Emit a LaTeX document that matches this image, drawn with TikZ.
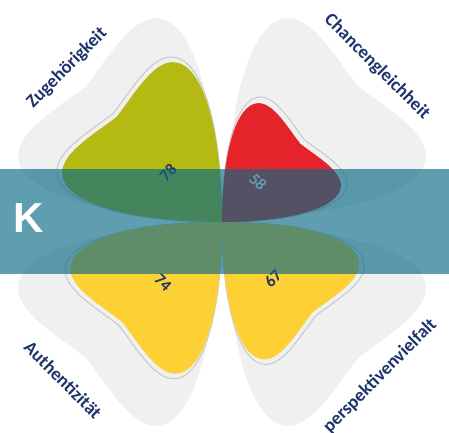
\documentclass[tikz,border=0pt]{standalone}
\usepackage{fontspec}
\setmainfont{Carlito}
\newfontfamily\kfont{Liberation Sans}
\definecolor{leafgrey}{RGB}{240,240,240}
\definecolor{olivec}{RGB}{181,186,19}
\definecolor{redc}{RGB}{228,35,42}
\definecolor{yellowc}{RGB}{253,208,52}
\definecolor{navyc}{RGB}{31,52,108}
\definecolor{bannerc}{RGB}{9,106,133}
\definecolor{edgec}{RGB}{200,200,200}
\newcommand\leafshape[1]{\path[#1] (0,0) .. controls (0,120) and (25,205) .. (63,205) .. controls (90,205) and (115,160) .. (135,135) .. controls (160,115) and (205,90) .. (205,63) .. controls (205,25) and (120,0) .. (0,0) -- cycle;}
\tikzset{
  outer/.style={font=\bfseries\fontsize{18.5}{21}\selectfont, text=navyc, inner sep=0pt},
  val/.style={font=\bfseries\fontsize{16.5}{18}\selectfont, text=navyc, inner sep=0pt},
  greyleaf/.style={fill=leafgrey},
  ring/.style={draw=edgec, line width=1pt},
}
\begin{document}
\begin{tikzpicture}[x=1pt,y=1pt]
\useasboundingbox (-222,-210) rectangle (227,222);
% grey background leaves
\leafshape{greyleaf, xscale=-1, shift={(5,5)}, scale=0.97}
\leafshape{greyleaf, shift={(5,5)}, scale=0.97}
\leafshape{greyleaf, xscale=-1, yscale=-1, shift={(5,5)}, scale=0.97}
\leafshape{greyleaf, yscale=-1, shift={(5,5)}, scale=0.97}
% rings
\leafshape{ring, xscale=-1, scale=0.805}
\leafshape{ring, scale=0.61}
\leafshape{ring, xscale=-1, yscale=-1, scale=0.765}
\leafshape{ring, yscale=-1, scale=0.695}
% coloured leaves
\leafshape{fill=olivec, xscale=-1, scale=0.78}
\leafshape{fill=redc, scale=0.58}
\leafshape{fill=yellowc, xscale=-1, yscale=-1, scale=0.74}
\leafshape{fill=yellowc, yscale=-1, scale=0.67}
% values
\node[val, rotate=45] (v78) at (-54,49) {78};
\node[val, rotate=-45, text=white] (v58) at (36,40) {58};
\node[val, rotate=-45] (v74) at (-59,-61) {74};
\node[val, rotate=45] (v67) at (51,-57) {67};
% outer labels
\node[outer, rotate=45] (zug) at (-155,154) {Zugehörigkeit};
\node[outer, rotate=-45] (cha) at (155,155) {Chancengleichheit};
\node[outer, rotate=-45] (aut) at (-159,-158) {Authentizität};
\node[outer, rotate=45] (per) at (158,-154) {perspektivenvielfalt};
% banner
\fill[bannerc, opacity=0.65] (-222,-52) rectangle (227,53);
\node[font=\kfont\bfseries\fontsize{42}{44}\selectfont, text=white, inner sep=0pt] (k) at (-193,4) {K};
\end{tikzpicture}
\end{document}
